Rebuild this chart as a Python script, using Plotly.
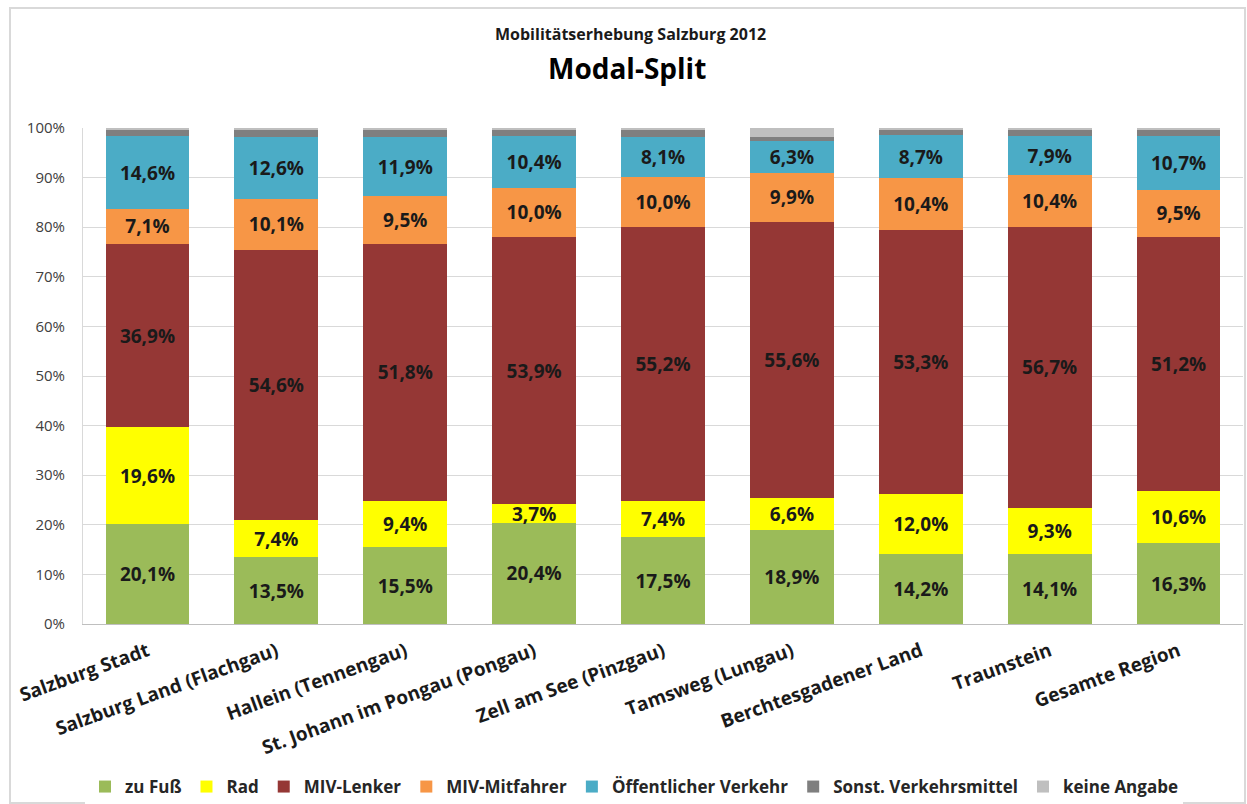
import plotly.graph_objects as go

categories = ["Salzburg Stadt", "Salzburg Land (Flachgau)", "Hallein (Tennengau)",
              "St. Johann im Pongau (Pongau)", "Zell am See (Pinzgau)", "Tamsweg (Lungau)",
              "Berchtesgadener Land", "Traunstein", "Gesamte Region"]

zu_fuss = [20.1, 13.5, 15.5, 20.4, 17.5, 18.9, 14.2, 14.1, 16.3]
rad = [19.6, 7.4, 9.4, 3.7, 7.4, 6.6, 12.0, 9.3, 10.6]
miv_lenker = [36.9, 54.6, 51.8, 53.9, 55.2, 55.6, 53.3, 56.7, 51.2]
miv_mitfahrer = [7.1, 10.1, 9.5, 10.0, 10.0, 9.9, 10.4, 10.4, 9.5]
oev = [14.6, 12.6, 11.9, 10.4, 8.1, 6.3, 8.7, 7.9, 10.7]
sonst = [1.2, 1.3, 1.4, 1.1, 1.3, 0.9, 1.0, 1.1, 1.2]
keine = [0.5, 0.5, 0.5, 0.5, 0.5, 1.8, 0.4, 0.5, 0.5]

series = [
    ("zu Fuß", zu_fuss, "#9BBB59", True),
    ("Rad", rad, "#FFFF00", True),
    ("MIV-Lenker", miv_lenker, "#953735", True),
    ("MIV-Mitfahrer", miv_mitfahrer, "#F79646", True),
    ("Öffentlicher Verkehr", oev, "#4BACC6", True),
    ("Sonst. Verkehrsmittel", sonst, "#7F7F7F", False),
    ("keine Angabe", keine, "#BFBFBF", False),
]

FONT = "'Open Sans', Lato, sans-serif"

fig = go.Figure()
for name, vals, color, lab in series:
    fig.add_trace(go.Bar(
        name=name, x=categories, y=vals,
        marker=dict(color=color, line=dict(width=0)),
        texttemplate="%{y:.1f}%" if lab else None,
        textposition="inside" if lab else "none",
        insidetextanchor="middle",
        textangle=0,
        constraintext="none",
        textfont=dict(family=FONT, size=19, color="#1a1a1a", weight="bold"),
        hoverinfo="skip",
    ))

# Plot area geometry (pixels)
L, R, T, B = 83, 4, 128, 180
W, H = 1247, 804
pw, ph = W - L - R, H - T - B

def px(x):
    return (x - L) / pw

def py(y):
    return (H - B - y) / ph

fig.update_layout(
    barmode="stack",
    bargap=0.35,
    separators=",.",
    width=W, height=H,
    margin=dict(l=L, r=R, t=T, b=B, autoexpand=False),
    paper_bgcolor="white",
    plot_bgcolor="white",
    font=dict(family=FONT, color="#262626"),
    showlegend=True,
    legend=dict(orientation="h", x=px(634), xanchor="center", y=py(787), yanchor="middle",
                font=dict(size=17, family=FONT, weight="bold", color="#262626"),
                itemwidth=30, traceorder="normal", tracegroupgap=0),
    xaxis=dict(tickangle=-20, tickfont=dict(size=19, family=FONT, weight="bold", color="#1a1a1a"),
               showline=True, linecolor="#BFBFBF", linewidth=1, ticks="",
               ticklabelstandoff=8,
               range=[-0.5, len(categories) - 0.5]),
    yaxis=dict(range=[0, 100], dtick=10, ticksuffix="%", tickfont=dict(size=15, family=FONT, color="#404040"),
               showgrid=True, gridcolor="#D9D9D9", gridwidth=1, ticklabelstandoff=14,
               showline=True, linecolor="#D9D9D9", linewidth=1, zeroline=False, ticks=""),
    annotations=[
        dict(text="<b>Mobilitätserhebung Salzburg 2012</b>", x=px(630), y=py(34), xref="paper", yref="paper",
             showarrow=False, font=dict(size=16, family=FONT, color="#1a1a1a"),
             xanchor="center", yanchor="middle"),
        dict(text="<b>Modal-Split</b>", x=px(627), y=py(68), xref="paper", yref="paper",
             showarrow=False, font=dict(size=28, family=FONT, color="#000000"),
             xanchor="center", yanchor="middle"),
    ],
    shapes=[
        dict(type="rect", xref="paper", yref="paper", x0=px(10), x1=px(1245), y0=py(803), y1=py(8),
             line=dict(color="#D9D9D9", width=2), fillcolor="rgba(0,0,0,0)", layer="below"),
    ],
)

fig.write_html("out.html", config={"displayModeBar": False},
               post_script="document.body.style.margin='0';document.body.style.overflow='hidden';")
